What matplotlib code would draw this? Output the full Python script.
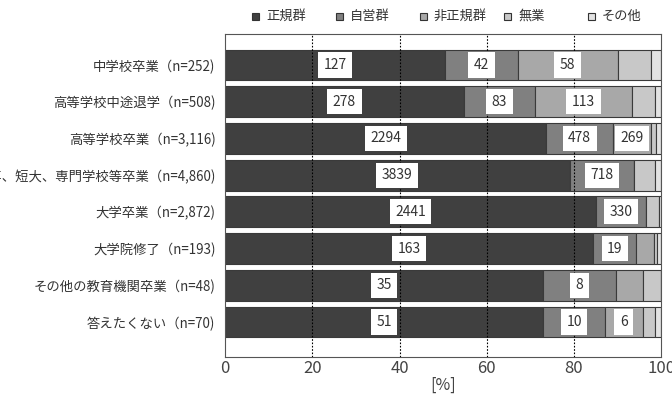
import matplotlib.pyplot as plt
from matplotlib.patches import Rectangle
import numpy as np

plt.rcParams['font.family'] = ['Noto Sans CJK JP', 'DejaVu Sans']

categories = ['中学校卒業（n=252)', '高等学校中途退学（n=508)', '高等学校卒業（n=3,116)',
              '高専、短大、専門学校等卒業（n=4,860)', '大学卒業（n=2,872)', '大学院修了（n=193)',
              'その他の教育機関卒業（n=48)', '答えたくない（n=70)']
series = ['正規群', '自営群', '非正規群', '無業', 'その他']
seiki = [127, 278, 2294, 3839, 2441, 163, 35, 51]
jiei = [42, 83, 478, 718, 330, 19, 8, 10]
hiseiki = [58, 113, 269, 0, 0, 8, 3, 6]
mugyo = [19, 27, 40, 228, 86, 1, 2, 2]
sonota = [6, 7, 35, 75, 15, 2, 0, 1]
colors = ['#404040', '#808080', '#a8a8a8', '#c8c8c8', '#e2e2e2']

counts = np.array([seiki, jiei, hiseiki, mugyo, sonota], dtype=float)
pct = counts / counts.sum(axis=0) * 100

fig = plt.figure(figsize=(6.72, 4.07), dpi=100)
ax = fig.add_axes([0.335, 0.123, 0.649, 0.794])

y = np.arange(len(categories))
left = np.zeros(len(categories))
for i, name in enumerate(series):
    ax.barh(y, pct[i], left=left, height=0.84, color=colors[i], edgecolor='#3a3a3a',
            linewidth=0.8, label=name, zorder=2)
    if i < 3:
        for j in range(len(categories)):
            if pct[i][j] >= 7:
                ax.text(left[j] + pct[i][j] / 2, y[j], str(int(counts[i][j])),
                        ha='center', va='center', fontsize=10, color='#333333', zorder=4,
                        bbox=dict(boxstyle='square,pad=0.4', fc='white', ec='none'))
    left += pct[i]

for gx in [20, 40, 60, 80]:
    ax.axvline(gx, color='black', linestyle=(0, (1.5, 1.5)), linewidth=0.8, zorder=3)

ax.set_xlim(0, 100)
ax.set_ylim(7.95, -0.85)
ax.set_yticks(y)
ax.set_yticklabels(categories, fontsize=9.6, color='#333333')
ax.tick_params(axis='y', length=0, pad=7)
ax.set_xticks([0, 20, 40, 60, 80, 100])
ax.tick_params(axis='x', labelsize=12, colors='#444444', length=0, pad=2)
ax.set_xlabel('[%]', fontsize=11.5, color='#444444', labelpad=0)
for s in ax.spines.values():
    s.set_color('#555555')
    s.set_linewidth(0.8)

# legend: equally spaced entries above the plot
W, H = 672, 407
for i, name in enumerate(series):
    sx = 252 + i * 84
    fig.patches.append(Rectangle((sx / W, 1 - 20 / H), 7 / W, 7 / H, transform=fig.transFigure,
                                 facecolor=colors[i], edgecolor='#333333', linewidth=0.8))
    fig.text((sx + 14) / W, 1 - 16.5 / H, name, fontsize=9.5, color='#333333',
             ha='left', va='center')

fig.savefig('out.png', dpi=100)
